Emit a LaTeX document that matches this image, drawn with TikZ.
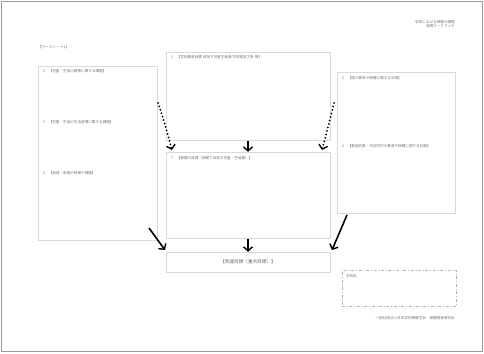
\documentclass[tikz,border=0pt]{standalone}
\usepackage{fontspec}
\setmainfont{Noto Sans CJK JP}
\usetikzlibrary{arrows.meta}
\tikzset{
  panel/.style={draw=black!15, line width=0.5pt},
  lbl/.style={anchor=west, inner sep=0pt, font=\fontsize{3.6}{4}\selectfont, text=black!55},
  solidarrow/.style={line width=1.6pt, -{Straight Barb[length=4pt,width=9pt,line width=1.4pt]}},
  dotarrow/.style={line width=2pt, dash pattern=on 0pt off 3.6pt, line cap=round, -{Straight Barb[length=4pt,width=9pt,line width=1.4pt]}}
}
\begin{document}
\begin{tikzpicture}[x=1pt,y=-1pt]
\useasboundingbox (0,0) rectangle (484,353);
\draw[black!40, line width=0.6pt] (1.5,1.5) rectangle (482.5,351.5);
% header
\node[anchor=east, inner sep=0pt, font=\fontsize{3.6}{4}\selectfont, text=black!55, align=right] (hdr) at (455,24) {学校における保健の課題\\実践ワークブック};
\node[lbl] (ws) at (38,47) {【ワークシート1】};
% boxes
\node[panel, minimum width=119pt, minimum height=174pt, inner sep=0pt] (L) at (97.5,153) {};
\node[panel, minimum width=164pt, minimum height=88pt, inner sep=0pt] (T) at (248,96) {};
\node[panel, minimum width=164pt, minimum height=86pt, inner sep=0pt] (M) at (248,195) {};
\node[panel, minimum width=118pt, minimum height=141pt, inner sep=0pt] (R) at (396,142.5) {};
\node[panel, minimum width=164pt, minimum height=20pt, inner sep=0pt, font=\fontsize{4.6}{5}\selectfont, text=black!60] (G) at (248,262) {【到達目標（重点目標）】};
\node[draw=black!30, dash dot, line width=0.5pt, minimum width=114pt, minimum height=36pt, inner sep=0pt] (S) at (399,288) {};
% labels
\node[lbl] (l2) at (43,71) {2\quad【児童・生徒の健康に関する課題】};
\node[lbl] (l3) at (43,122) {3\quad【児童・生徒の生活習慣に関する課題】};
\node[lbl] (l4) at (43,173) {4\quad【地域・家庭の特徴や課題】};
\node[lbl] (l1) at (171,57) {1\quad【学校教育目標 目指す児童生徒像 学校経営方針 等】};
\node[lbl] (l5) at (342,78) {5\quad【国の教育や保健に関する法規】};
\node[lbl] (l6) at (342,146) {6\quad【都道府県・市区町村の教育や保健に関する計画】};
\node[lbl] (l7) at (171,158) {7\quad【保健の目標（保健で目指す児童・生徒像）】};
\node[lbl] (sn) at (346,276) {学校名};
\node[anchor=east, inner sep=0pt, font=\fontsize{3.6}{4}\selectfont, text=black!55] (ft) at (455,318) {一般社団法人日本学校保健学会　保健教育研究会};
% arrows
\coordinate (d1s) at (158,103);
\coordinate (d1e) at (172,150);
\coordinate (d2s) at (334,103);
\coordinate (d2e) at (322,150);
\draw[dotarrow] (d1s) .. controls (164,120) and (168,135) .. (d1e);
\draw[dotarrow] (d2s) .. controls (330,120) and (326,135) .. (d2e);
\draw[solidarrow] (T.south) ++(0,1) -- (M.north);
\draw[solidarrow] (149,228) -- (165,250);
\draw[solidarrow] (M.south) ++(0,1) -- (G.north);
\draw[solidarrow] (347,215) -- (332,250);
\end{tikzpicture}
\end{document}
